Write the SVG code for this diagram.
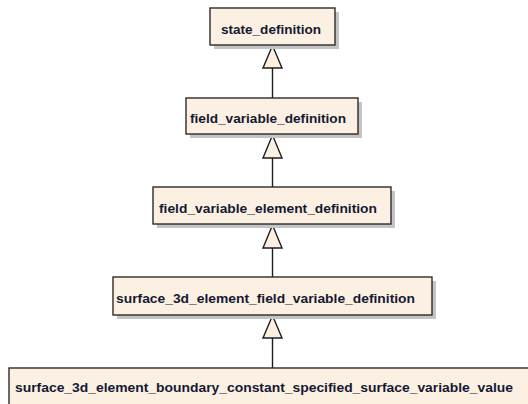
<svg xmlns="http://www.w3.org/2000/svg" width="528" height="404" viewBox="0 0 528 404">
  <defs>
    <style>
      .shadow { fill: #c4c4c4; }
      .box { fill: #fcf0e2; stroke: #2b2b2b; stroke-width: 1.4; }
      .label { font-family: "Liberation Sans", Arial, sans-serif; font-size: 13.7px; font-weight: bold; fill: #141a33; }
      .edge { stroke: #1e1e1e; stroke-width: 1.4; fill: none; }
      .head { fill: #fcf0e2; stroke: #1e1e1e; stroke-width: 1.4; stroke-linejoin: miter; }
    </style>
  </defs>
  <rect width="528" height="404" fill="#ffffff"/>

  <!-- generalization connectors (hollow triangle points at the parent) -->
  <g id="connectors">
    <line class="edge" x1="272.5" y1="68" x2="272.5" y2="98"/>
    <polygon class="head" points="272.5,45.5 263,68 282,68"/>
    <line class="edge" x1="272.5" y1="158" x2="272.5" y2="187"/>
    <polygon class="head" points="272.5,135 263,158 282,158"/>
    <line class="edge" x1="272.5" y1="248" x2="272.5" y2="277"/>
    <polygon class="head" points="272.5,225 263,248 282,248"/>
    <line class="edge" x1="272.5" y1="338" x2="272.5" y2="368"/>
    <polygon class="head" points="272.5,315.5 263,338 282,338"/>
  </g>

  <g id="state_definition">
    <rect class="shadow" x="214" y="12" width="125" height="37"/>
    <rect class="box" x="210" y="8" width="125" height="37"/>
    <text class="label" x="221" y="34" textLength="100" lengthAdjust="spacingAndGlyphs">state_definition</text>
  </g>

  <g id="field_variable_definition">
    <rect class="shadow" x="190" y="102" width="172" height="36"/>
    <rect class="box" x="186" y="98" width="172" height="36"/>
    <text class="label" x="190" y="123" textLength="156" lengthAdjust="spacingAndGlyphs">field_variable_definition</text>
  </g>

  <g id="field_variable_element_definition">
    <rect class="shadow" x="157" y="191" width="238" height="37"/>
    <rect class="box" x="153" y="187" width="238" height="37"/>
    <text class="label" x="159" y="213" textLength="218" lengthAdjust="spacingAndGlyphs">field_variable_element_definition</text>
  </g>

  <g id="surface_3d_element_field_variable_definition">
    <rect class="shadow" x="117" y="281" width="319" height="38"/>
    <rect class="box" x="113" y="277" width="319" height="38"/>
    <text class="label" x="116" y="303" textLength="299" lengthAdjust="spacingAndGlyphs">surface_3d_element_field_variable_definition</text>
  </g>

  <g id="surface_3d_element_boundary_constant_specified_surface_variable_value">
    <rect class="shadow" x="13" y="372" width="530" height="40"/>
    <rect class="box" x="9" y="368" width="530" height="40"/>
    <text class="label" x="15" y="392" textLength="498" lengthAdjust="spacingAndGlyphs">surface_3d_element_boundary_constant_specified_surface_variable_value</text>
  </g>
</svg>
